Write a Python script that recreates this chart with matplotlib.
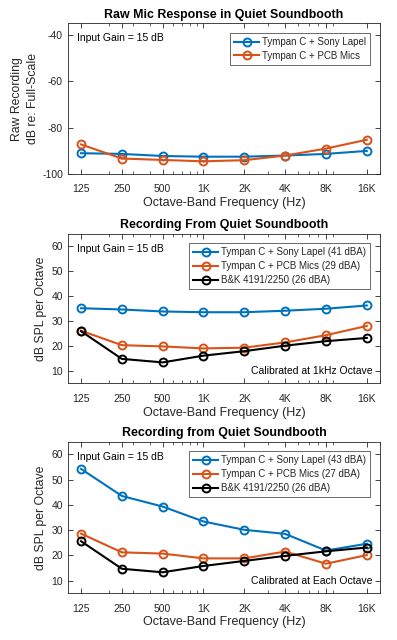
import numpy as np
import matplotlib.pyplot as plt

plt.rcParams['font.family'] = ['Liberation Sans', 'DejaVu Sans']
plt.rcParams['axes.unicode_minus'] = False

freqs = [125, 250, 500, 1000, 2000, 4000, 8000, 16000]
freq_labels = ['125', '250', '500', '1K', '2K', '4K', '8K', '16K']

# panel 1: raw recording, dB re full scale
raw_sony = [-91.0, -91.3, -92.2, -92.5, -92.5, -92.0, -91.3, -90.0]
raw_pcb = [-87.2, -93.3, -93.9, -94.5, -94.0, -92.0, -89.0, -85.2]

# panel 2: calibrated at 1 kHz
cal1k_sony = [35.1, 34.6, 33.8, 33.5, 33.5, 34.1, 34.9, 36.2]
cal1k_pcb = [26.1, 20.3, 19.8, 19.0, 19.3, 21.4, 24.3, 28.0]
cal1k_bk = [25.9, 14.8, 13.4, 16.1, 17.9, 20.1, 21.9, 23.2]

# panel 3: calibrated at each octave
caleach_sony = [54.2, 43.5, 39.3, 33.4, 30.1, 28.5, 21.9, 24.6]
caleach_pcb = [28.6, 21.2, 20.7, 18.8, 18.8, 21.5, 16.7, 20.1]
caleach_bk = [25.6, 14.7, 13.3, 15.8, 17.8, 19.8, 21.6, 23.1]

blue = '#0072BD'
orange = '#D95319'
dark = '#262626'

fig = plt.figure(figsize=(3.97, 6.4), dpi=100)
ax1 = fig.add_axes([0.171, 0.728, 0.786, 0.2355])
ax2 = fig.add_axes([0.171, 0.401, 0.786, 0.234])
ax3 = fig.add_axes([0.171, 0.073, 0.786, 0.237])

def style_axis(ax, title):
    ax.set_xscale('log')
    ax.set_xlim(100, 20000)
    ax.set_xticks(freqs)
    ax.set_xticklabels(freq_labels)
    ax.tick_params(which='both', direction='in', top=True, right=True,
                   labelsize=7.5, colors=dark)
    ax.tick_params(axis='x', pad=7.5)
    ax.tick_params(axis='y', pad=3.5)
    ax.tick_params(which='major', length=3.5, width=0.6)
    ax.tick_params(which='minor', length=2, width=0.5)
    for s in ax.spines.values():
        s.set_color(dark)
        s.set_linewidth(0.6)
    ax.set_title(title, fontsize=8.9, fontweight='bold', pad=4)
    ax.set_xlabel('Octave-Band Frequency (Hz)', fontsize=9, color=dark, labelpad=2)

def draw(ax, y, color, label):
    ax.plot(freqs, y, '-o', color=color, lw=1.5, ms=5.7, mfc='none', mew=1.4, label=label)

style_axis(ax1, 'Raw Mic Response in Quiet Soundbooth')
draw(ax1, raw_sony, blue, 'Tympan C + Sony Lapel')
draw(ax1, raw_pcb, orange, 'Tympan C + PCB Mics')
ax1.set_ylim(-100, -35)
ax1.set_yticks([-100, -80, -60, -40])
ax1.set_ylabel('Raw Recording\ndB re: Full-Scale', fontsize=8.8, color=dark,
               labelpad=2, linespacing=1.45)
ax1.text(0.03, 0.9, 'Input Gain = 15 dB', transform=ax1.transAxes, fontsize=7.5, va='center')

style_axis(ax2, 'Recording From Quiet Soundbooth')
draw(ax2, cal1k_sony, blue, 'Tympan C + Sony Lapel (41 dBA)')
draw(ax2, cal1k_pcb, orange, 'Tympan C + PCB Mics (29 dBA)')
draw(ax2, cal1k_bk, 'black', 'B&K 4191/2250 (26 dBA)')
ax2.set_ylim(5, 65)
ax2.set_yticks([10, 20, 30, 40, 50, 60])
ax2.set_ylabel('dB SPL per Octave', fontsize=8.8, color=dark, labelpad=3)
ax2.text(0.03, 0.9, 'Input Gain = 15 dB', transform=ax2.transAxes, fontsize=7.5, va='center')
ax2.text(0.975, 0.08, 'Calibrated at 1kHz Octave', transform=ax2.transAxes,
         fontsize=7.5, ha='right', va='center')

style_axis(ax3, 'Recording from Quiet Soundbooth')
draw(ax3, caleach_sony, blue, 'Tympan C + Sony Lapel (43 dBA)')
draw(ax3, caleach_pcb, orange, 'Tympan C + PCB Mics (27 dBA)')
draw(ax3, caleach_bk, 'black', 'B&K 4191/2250 (26 dBA)')
ax3.set_ylim(5, 65)
ax3.set_yticks([10, 20, 30, 40, 50, 60])
ax3.set_ylabel('dB SPL per Octave', fontsize=8.8, color=dark, labelpad=3)
ax3.text(0.03, 0.9, 'Input Gain = 15 dB', transform=ax3.transAxes, fontsize=7.5, va='center')
ax3.text(0.975, 0.08, 'Calibrated at Each Octave', transform=ax3.transAxes,
         fontsize=7.5, ha='right', va='center')

for ax in (ax1, ax2, ax3):
    leg = ax.legend(loc='upper right', fontsize=7.0, frameon=True, fancybox=False,
                    handlelength=2.6, handletextpad=0.3, borderpad=0.4,
                    labelspacing=0.4, borderaxespad=1.0)
    leg.get_frame().set_edgecolor(dark)
    leg.get_frame().set_linewidth(0.6)
    for t in leg.get_texts():
        t.set_color(dark)

plt.savefig('out.png', dpi=100)
plt.close()
